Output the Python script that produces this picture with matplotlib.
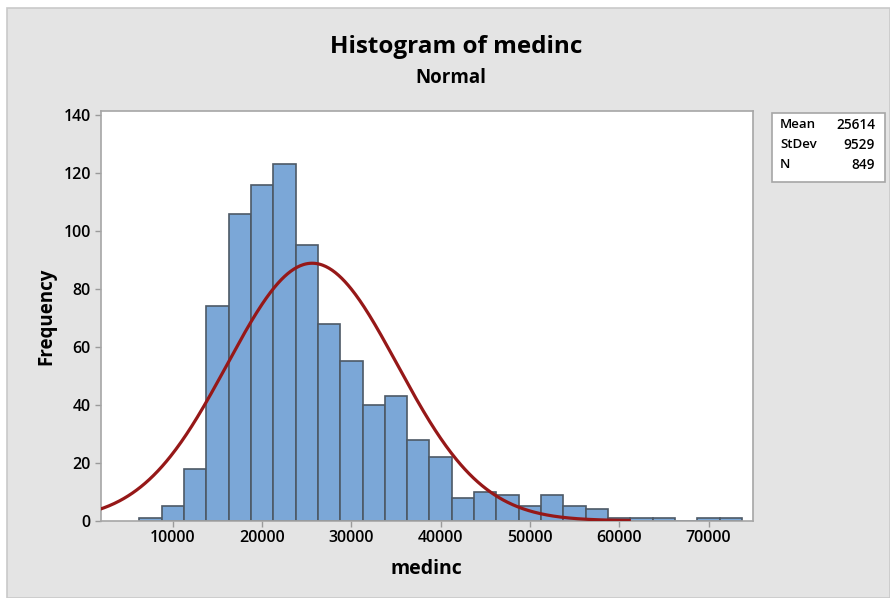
import numpy as np
import matplotlib
matplotlib.use("Agg")
import matplotlib.pyplot as plt
from matplotlib.patches import Rectangle

# ---- data ----
bin_centers = [7500, 10000, 12500, 15000, 17500, 20000, 22500, 25000, 27500,
               30000, 32500, 35000, 37500, 40000, 42500, 45000, 47500, 50000,
               52500, 55000, 57500, 60000, 62500, 65000, 67500, 70000, 72500]
counts = [1, 5, 18, 74, 106, 116, 123, 95, 68,
          55, 40, 43, 28, 22, 8, 10, 9, 5,
          9, 5, 4, 1, 1, 1, 0, 1, 1]
bin_width = 2500
mean_val = 25614
stdev_val = 9529
n_val = 849
x_ticks = [10000, 20000, 30000, 40000, 50000, 60000, 70000]
y_ticks = [0, 20, 40, 60, 80, 100, 120, 140]

FONT = ["Open Sans", "DejaVu Sans"]
plt.rcParams["font.family"] = FONT

W, H = 890, 598
fig = plt.figure(figsize=(W / 100, H / 100), dpi=100)
fig.patch.set_facecolor("white")

# grey panel background
panel = Rectangle((7 / W, 0), 1 - 7 / W, 1 - 8 / H, transform=fig.transFigure,
                  facecolor="#e4e4e4", edgecolor="#c9c9c9", linewidth=1.2, zorder=-10)
fig.patches.append(panel)

left, right = 100.7 / W, 752.7 / W
bottom, top = 1 - 520.7 / H, 1 - 110.7 / H
ax = fig.add_axes([left, bottom, right - left, top - bottom])
ax.set_zorder(1)
ax.set_facecolor("white")

ax.bar(bin_centers, counts, width=bin_width, color="#7ba7d7",
       edgecolor="#4d5966", linewidth=1.2, zorder=2)

xs = np.linspace(-10000, 61300, 600)
pdf = n_val * bin_width / (stdev_val * np.sqrt(2 * np.pi)) * np.exp(-0.5 * ((xs - mean_val) / stdev_val) ** 2)
ax.plot(xs, pdf, color="#961818", linewidth=2.3, zorder=3, solid_capstyle="butt")

ax.set_xlim(1930, 74950)
ax.set_ylim(0, 141.5)
ax.set_xticks(x_ticks)
ax.set_yticks(y_ticks)
ax.set_xticklabels([str(v) for v in x_ticks], fontsize=11.5, fontweight="semibold")
ax.set_yticklabels([str(v) for v in y_ticks], fontsize=11.5, fontweight="semibold")
ax.tick_params(axis="both", direction="out", length=4, width=1, color="#9a9a9a", pad=3)
for s in ax.spines.values():
    s.set_color("#a6a6a6")
    s.set_linewidth(1.2)

fig.text(456 / W, 1 - 47 / H, "Histogram of medinc", ha="center", va="center",
         fontsize=17.5, fontweight="bold")
fig.text(451 / W, 1 - 78 / H, "Normal", ha="center", va="center",
         fontsize=13.5, fontweight="bold")
fig.text(46 / W, 1 - 316 / H, "Frequency", ha="center", va="center", rotation=90,
         fontsize=13.5, fontweight="bold")
fig.text(426 / W, 1 - 569 / H, "medinc", ha="center", va="center",
         fontsize=14, fontweight="bold")

# stats box
bx0, bx1, by0, by1 = 772, 885, 113, 182
box = Rectangle((bx0 / W, 1 - by1 / H), (bx1 - bx0) / W, (by1 - by0) / H,
                transform=fig.transFigure, facecolor="white", edgecolor="#a6a6a6",
                linewidth=1.2, zorder=5)
fig.patches.append(box)
rows = [("Mean", str(mean_val)), ("StDev", str(stdev_val)), ("N", str(n_val))]
for i, (lab, val) in enumerate(rows):
    yy = 1 - (125 + i * 20) / H
    fig.text(780 / W, yy, lab, ha="left", va="center", fontsize=9.5,
             fontweight="semibold", zorder=6)
    fig.text(875 / W, yy, val, ha="right", va="center", fontsize=9.8,
             fontweight="semibold", zorder=6)

fig.savefig("out.png", dpi=100, facecolor=fig.get_facecolor())
